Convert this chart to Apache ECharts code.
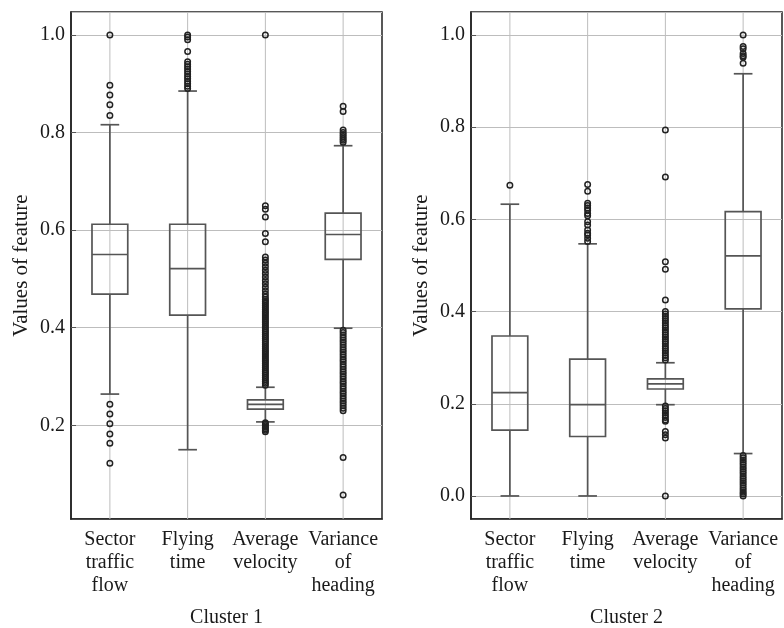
<!DOCTYPE html>
<html style="height: 100%">
<head>
    <meta charset="utf-8">
</head>
<body style="height: 100%; margin: 0; background: #fff">
    <div id="container" style="width: 784px; height: 628px"></div>
    <script type="text/javascript" src="https://cdn.jsdelivr.net/npm/echarts@6/dist/echarts.min.js"></script>
    <script type="text/javascript">
        var categories = ['Sector\ntraffic\nflow', 'Flying\ntime', 'Average\nvelocity', 'Variance\nof\nheading'];

        // box stats per feature: [low whisker, q1, median, q3, high whisker]
        var cluster1Box = [
            [0.264, 0.469, 0.550, 0.612, 0.816],
            [0.150, 0.426, 0.521, 0.612, 0.885],
            [0.207, 0.233, 0.243, 0.252, 0.278],
            [0.399, 0.540, 0.591, 0.635, 0.773]
        ];
        var cluster2Box = [
            [0.000, 0.143, 0.224, 0.347, 0.633],
            [0.000, 0.129, 0.198, 0.297, 0.547],
            [0.198, 0.232, 0.243, 0.254, 0.289],
            [0.092, 0.406, 0.521, 0.617, 0.916]
        ];

        // outliers per feature
        var cluster1Outliers = [
            [1.0, 0.897, 0.877, 0.857, 0.835, 0.243, 0.223, 0.203, 0.182, 0.163, 0.122],
            [1.0, 0.996, 0.99, 0.966, 0.945, 0.94, 0.935, 0.93, 0.925, 0.92, 0.915, 0.91, 0.905, 0.90, 0.895, 0.89],
            [1.0, 0.650, 0.643, 0.627, 0.593, 0.576, 0.545, 0.539, 0.532, 0.525, 0.518, 0.511, 0.504, 0.497, 0.490,
             0.483, 0.476, 0.469, 0.463, 0.458, 0.454, 0.450, 0.446, 0.442, 0.438, 0.434, 0.430, 0.426, 0.422, 0.418,
             0.414, 0.410, 0.406, 0.402, 0.398, 0.394, 0.390, 0.386, 0.382, 0.378, 0.374, 0.370, 0.366, 0.362, 0.358,
             0.354, 0.350, 0.346, 0.342, 0.338, 0.334, 0.330, 0.326, 0.322, 0.318, 0.314, 0.310, 0.306, 0.302, 0.298,
             0.294, 0.290, 0.286, 0.282, 0.205, 0.202, 0.199, 0.196, 0.193, 0.190, 0.187],
            [0.854, 0.843, 0.805, 0.800, 0.796, 0.792, 0.788, 0.784, 0.780,
             0.395, 0.390, 0.385, 0.380, 0.375, 0.370, 0.365, 0.360, 0.355, 0.350, 0.345, 0.340, 0.335, 0.330, 0.325,
             0.320, 0.315, 0.310, 0.305, 0.300, 0.295, 0.290, 0.285, 0.280, 0.275, 0.270, 0.265, 0.260, 0.255, 0.250,
             0.245, 0.240, 0.235, 0.230, 0.134, 0.057]
        ];
        var cluster2Outliers = [
            [0.674],
            [0.676, 0.661, 0.635, 0.630, 0.625, 0.620, 0.613, 0.608, 0.595, 0.588, 0.577, 0.570, 0.566, 0.559, 0.552],
            [0.794, 0.692, 0.508, 0.492, 0.425, 0.400, 0.395, 0.390, 0.385, 0.380, 0.375, 0.370, 0.365, 0.360, 0.355,
             0.350, 0.345, 0.340, 0.335, 0.330, 0.325, 0.320, 0.315, 0.310, 0.305, 0.300, 0.295,
             0.195, 0.190, 0.185, 0.180, 0.175, 0.170, 0.165, 0.162, 0.140, 0.133, 0.126, 0.0],
            [1.0, 0.975, 0.970, 0.960, 0.955, 0.952, 0.939,
             0.088, 0.083, 0.078, 0.073, 0.068, 0.063, 0.058, 0.053, 0.048, 0.043, 0.038, 0.033, 0.028, 0.023,
             0.018, 0.013, 0.008, 0.004, 0.0]
        ];

        var clusterNames = ['Cluster 1', 'Cluster 2'];
        var yRanges = [[0.008, 1.047], [-0.05, 1.05]];

        var font = 'Liberation Serif';
        var textColor = '#1a1a1a';

        function boxData(stats) {
            return stats.map(function (s, i) { return [i].concat(s); });
        }
        function outlierData(list) {
            var out = [];
            list.forEach(function (vals, i) {
                vals.forEach(function (v) { out.push([i, v]); });
            });
            return out;
        }

        function renderBox(params, api) {
            var cat = api.value(0);
            var low = api.value(1), q1 = api.value(2), med = api.value(3), q3 = api.value(4), high = api.value(5);
            var xc = api.coord([cat, med])[0];
            var band = api.size([1, 0])[0];
            var half = band * 0.23;
            var cap = band * 0.12;
            var y = function (v) { return api.coord([cat, v])[1]; };
            var cs = params.coordSys;
            var st = { stroke: '#555', lineWidth: 1.7, fill: null };
            return {
                type: 'group',
                children: [
                    { type: 'line', shape: { x1: xc, y1: cs.y, x2: xc, y2: cs.y + cs.height }, style: { stroke: '#bdbdbd', lineWidth: 1 } },
                    { type: 'rect', shape: { x: xc - half, y: y(q3), width: half * 2, height: y(q1) - y(q3) }, style: st },
                    { type: 'line', shape: { x1: xc - half, y1: y(med), x2: xc + half, y2: y(med) }, style: st },
                    { type: 'line', shape: { x1: xc, y1: y(q3), x2: xc, y2: y(high) }, style: st },
                    { type: 'line', shape: { x1: xc, y1: y(q1), x2: xc, y2: y(low) }, style: st },
                    { type: 'line', shape: { x1: xc - cap, y1: y(high), x2: xc + cap, y2: y(high) }, style: st },
                    { type: 'line', shape: { x1: xc - cap, y1: y(low), x2: xc + cap, y2: y(low) }, style: st }
                ]
            };
        }

        var grids = [
            { left: 71, right: 402, top: 12, bottom: 109 },
            { left: 471, right: 2, top: 12, bottom: 109 }
        ];

        var xAxes = [], yAxes = [], series = [];
        var boxes = [cluster1Box, cluster2Box];
        var outs = [cluster1Outliers, cluster2Outliers];
        for (var g = 0; g < 2; g++) {
            grids[g].show = true;
            grids[g].outerBoundsMode = 'none';
            grids[g].containLabel = false;
            grids[g].borderColor = '#222';
            grids[g].borderWidth = 1.5;
            grids[g].backgroundColor = '#fff';
            xAxes.push({
                type: 'category',
                gridIndex: g,
                data: categories,
                name: clusterNames[g],
                nameLocation: 'middle',
                nameGap: 89,
                nameTextStyle: { fontFamily: font, fontSize: 20, color: textColor },
                axisLine: { onZero: false, lineStyle: { color: '#222', width: 1.5 } },
                axisTick: { inside: true, alignWithLabel: true, length: 5, lineStyle: { color: '#555' } },
                axisLabel: { interval: 0, fontFamily: font, fontSize: 20, lineHeight: 23, color: textColor, margin: 9 },
                splitLine: { show: false }
            });
            yAxes.push({
                type: 'value',
                gridIndex: g,
                min: yRanges[g][0],
                max: yRanges[g][1],
                splitNumber: 5,
                name: 'Values of feature',
                nameLocation: 'middle',
                nameGap: 39,
                nameTextStyle: { fontFamily: font, fontSize: 21, color: textColor },
                axisLine: { show: true, onZero: false, lineStyle: { color: '#222', width: 1.5 } },
                axisTick: { show: true, inside: true, length: 5, lineStyle: { color: '#555' } },
                axisLabel: {
                    fontFamily: font, fontSize: 20, color: textColor, margin: 6,
                    showMinLabel: false, showMaxLabel: false,
                    formatter: function (v) {
                        return Math.abs(v * 5 - Math.round(v * 5)) < 1e-6 ? v.toFixed(1) : '';
                    }
                },
                splitLine: { show: true, lineStyle: { color: '#bdbdbd', width: 1 } }
            });
            series.push({
                type: 'custom',
                xAxisIndex: g,
                yAxisIndex: g,
                renderItem: renderBox,
                encode: { x: 0, y: [1, 2, 3, 4, 5] },
                data: boxData(boxes[g]),
                z: 2
            });
            series.push({
                type: 'scatter',
                xAxisIndex: g,
                yAxisIndex: g,
                symbol: 'circle',
                symbolSize: 5.5,
                itemStyle: { color: 'rgba(0,0,0,0)', borderColor: '#222', borderWidth: 1.5, opacity: 1 },
                data: outlierData(outs[g]),
                z: 3
            });
        }

        var myChart = echarts.init(document.getElementById('container'));
        myChart.setOption({
            animation: false,
            grid: grids,
            xAxis: xAxes,
            yAxis: yAxes,
            series: series
        });
    </script>
</body>
</html>
